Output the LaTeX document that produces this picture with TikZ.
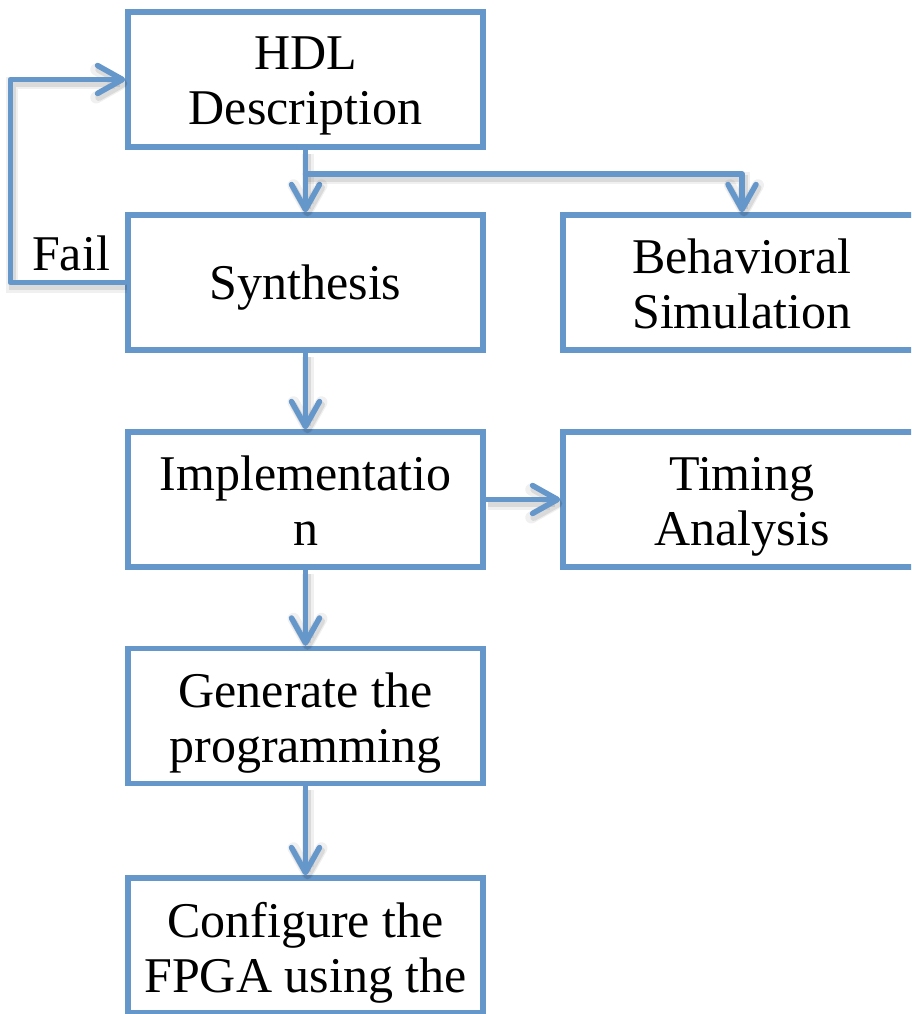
\documentclass[tikz,border=0pt]{standalone}
\usepackage{fontspec}
\setmainfont{Liberation Serif}
\usetikzlibrary{arrows.meta}

% two centred lines, baseline at the first line
\newcommand\twoln[2]{\vtop{\baselineskip=55pt\halign{\hfil##\hfil\cr#1\cr#2\cr}}}

\definecolor{flowblue}{RGB}{101,151,203}

\begin{document}
\begin{tikzpicture}[x=1pt,y=-1pt,
  box/.style={draw=flowblue, line width=5.5pt, rectangle, inner sep=0pt,
              minimum width=355pt, minimum height=135pt},
  wide/.style={box, minimum width=358pt},
  lbl/.style={anchor=base, inner sep=0pt, text=black,
              font=\fontsize{50}{55}\selectfont},
  conn/.style={draw=flowblue, line width=5.5pt, line cap=round, line join=round,
    preaction={draw=black, opacity=0.06, line width=12pt,
               transform canvas={shift={(2pt,-4pt)}}},
    preaction={draw=black, opacity=0.09, line width=7pt,
               transform canvas={shift={(2pt,-4pt)}}}},
  flow/.style={conn, -{Straight Barb[length=25pt, width=28pt, line cap=round, line join=round]}}
]
\useasboundingbox (0,0) rectangle (911,1014);
\clip (0,0) rectangle (911,1014);

% process boxes
\node[box]  (hdl) at (305.5,79.5)  {};
\node[box]  (syn) at (305.5,282.5) {};
\node[box]  (imp) at (305.5,499.5) {};
\node[box]  (gen) at (305.5,716)   {};
\node[box]  (cfg) at (305.5,945.5) {};
\node[wide] (beh) at (742,282.5)   {};
\node[wide] (tim) at (742,499.5)   {};

% box texts
\node[lbl] (hdlT) at (305.5,70)  {\twoln{HDL}{Description}};
\node[lbl] (synT) at (305.5,299) {Synthesis};
\node[lbl] (impT) at (305.5,490) {\twoln{Implementatio}{n}};
\node[lbl] (genT) at (305.5,707) {\twoln{Generate the}{programming}};
\node[lbl] (cfgT) at (305.5,937) {\twoln{Configure the}{FPGA using the}};
\node[lbl] (behT) at (742,273)   {\twoln{Behavioral}{Simulation}};
\node[lbl] (timT) at (742,490)   {\twoln{Timing}{Analysis}};
\node[lbl] (fail) at (71,270)    {Fail};

% connectors
\coordinate (split) at (305.5,174);
\draw[flow] (hdl.south) -- (syn.north);
\draw[flow] (split) -| (beh.north);
\draw[flow] (syn.south) -- (imp.north);
\draw[flow] (imp.east) -- (tim.west);
\draw[flow] (imp.south) -- (gen.north);
\draw[flow] (gen.south) -- (cfg.north);
\draw[flow] (syn.west) -- ++(-115,0) |- (hdl.west);
\end{tikzpicture}
\end{document}
